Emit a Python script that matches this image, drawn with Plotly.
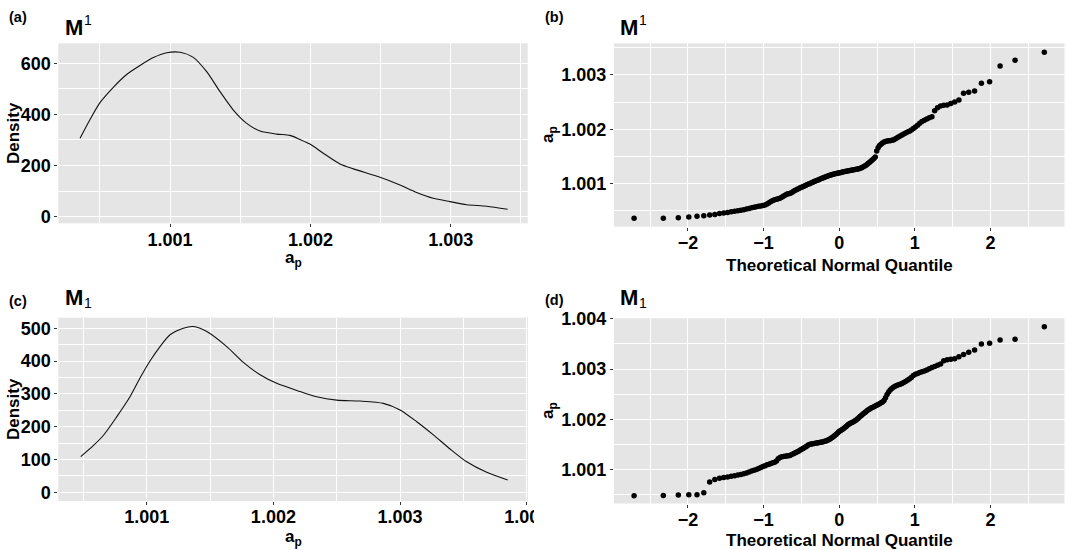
import plotly.graph_objects as go
from statistics import NormalDist

# ---------------- data ----------------
# (a) density of a_p, model M^1
dens_a_x = [1.000359, 1.000430, 1.000501, 1.000596, 1.000691, 1.000786, 1.000881, 1.000976,
            1.001071, 1.001166, 1.001261, 1.001356, 1.001451, 1.001546, 1.001641, 1.001760,
            1.001855, 1.001926, 1.001997, 1.002092, 1.002211, 1.002306, 1.002496, 1.002638,
            1.002757, 1.002876, 1.002994, 1.003113, 1.003256, 1.003405]
dens_a_y = [306.6, 380, 446, 506, 556, 591, 622, 641, 643, 623, 567, 489, 417, 365, 335, 323,
            318, 302, 284, 248, 206, 187, 154, 124, 95, 72, 59, 47, 41, 29]

# (c) density of a_p, model M_1
dens_c_x = [1.000479, 1.000578, 1.000657, 1.000763, 1.000868, 1.000947, 1.001026, 1.001105,
            1.001184, 1.001289, 1.001368, 1.001474, 1.001632, 1.001763, 1.001895, 1.002026,
            1.002211, 1.002342, 1.002500, 1.002684, 1.002868, 1.003000, 1.003132, 1.003263,
            1.003395, 1.003526, 1.003684, 1.003850]
dens_c_y = [108.5, 142, 173, 230, 291, 348, 400, 444, 480, 500, 505, 490, 444, 396, 358, 332,
            307, 291, 281, 278, 271, 251, 215, 175, 132, 93, 61, 37.5]

# (b) sorted sample a_p values, model M^1 (n = 150)
sample_b = [
    1.000358, 1.000360, 1.000370, 1.000382, 1.000398, 1.000407, 1.000418, 1.000430, 1.000446, 1.000458,
    1.000468, 1.000478, 1.000488, 1.000497, 1.000505, 1.000515, 1.000528, 1.000540, 1.000552, 1.000563,
    1.000572, 1.000580, 1.000587, 1.000594, 1.000605, 1.000622, 1.000645, 1.000668, 1.000688, 1.000702,
    1.000711, 1.000718, 1.000728, 1.000745, 1.000765, 1.000785, 1.000800, 1.000810, 1.000818, 1.000830,
    1.000848, 1.000865, 1.000882, 1.000896, 1.000908, 1.000920, 1.000932, 1.000944, 1.000956, 1.000968,
    1.000980, 1.000991, 1.001002, 1.001013, 1.001024, 1.001035, 1.001046, 1.001056, 1.001066, 1.001076,
    1.001086, 1.001096, 1.001106, 1.001115, 1.001124, 1.001133, 1.001142, 1.001150, 1.001158, 1.001165,
    1.001172, 1.001178, 1.001184, 1.001190, 1.001195, 1.001200, 1.001205, 1.001210, 1.001215, 1.001220,
    1.001225, 1.001230, 1.001235, 1.001240, 1.001245, 1.001250, 1.001254, 1.001258, 1.001262, 1.001266,
    1.001270, 1.001282, 1.001292, 1.001304, 1.001318, 1.001334, 1.001352, 1.001372, 1.001393, 1.001415,
    1.001438, 1.001462, 1.001488, 1.001598, 1.001660, 1.001700, 1.001725, 1.001748, 1.001765, 1.001776,
    1.001782, 1.001786, 1.001790, 1.001795, 1.001803, 1.001818, 1.001838, 1.001858, 1.001877, 1.001896,
    1.001914, 1.001930, 1.001947, 1.001965, 1.001985, 1.002013, 1.002043, 1.002075, 1.002110, 1.002143,
    1.002168, 1.002188, 1.002210, 1.002230, 1.002342, 1.002397, 1.002428, 1.002440, 1.002448, 1.002476,
    1.002502, 1.002539, 1.002662, 1.002681, 1.002705, 1.002847, 1.002877, 1.003166, 1.003271, 1.003418]

# (d) sorted sample a_p values, model M_1 (n = 150)
sample_d = [
    1.000479, 1.000480, 1.000494, 1.000496, 1.000498, 1.000535, 1.000750, 1.000803, 1.000825, 1.000840,
    1.000852, 1.000864, 1.000876, 1.000888, 1.000900, 1.000915, 1.000932, 1.000950, 1.000968, 1.000985,
    1.001002, 1.001020, 1.001038, 1.001058, 1.001076, 1.001092, 1.001106, 1.001120, 1.001133, 1.001146,
    1.001170, 1.001215, 1.001240, 1.001252, 1.001258, 1.001262, 1.001266, 1.001271, 1.001278, 1.001292,
    1.001308, 1.001325, 1.001340, 1.001354, 1.001370, 1.001388, 1.001404, 1.001420, 1.001436, 1.001452,
    1.001472, 1.001492, 1.001502, 1.001508, 1.001512, 1.001516, 1.001520, 1.001525, 1.001530, 1.001535,
    1.001540, 1.001546, 1.001553, 1.001560, 1.001568, 1.001578, 1.001590, 1.001604, 1.001620, 1.001637,
    1.001655, 1.001675, 1.001698, 1.001722, 1.001745, 1.001765, 1.001782, 1.001798, 1.001815, 1.001835,
    1.001858, 1.001880, 1.001900, 1.001915, 1.001928, 1.001940, 1.001955, 1.001972, 1.001992, 1.002012,
    1.002035, 1.002058, 1.002080, 1.002102, 1.002124, 1.002146, 1.002168, 1.002188, 1.002206, 1.002222,
    1.002236, 1.002250, 1.002264, 1.002280, 1.002295, 1.002310, 1.002326, 1.002345, 1.002372, 1.002430,
    1.002490, 1.002540, 1.002580, 1.002612, 1.002638, 1.002658, 1.002674, 1.002686, 1.002698, 1.002712,
    1.002730, 1.002752, 1.002776, 1.002800, 1.002830, 1.002870, 1.002895, 1.002912, 1.002930, 1.002946,
    1.002962, 1.002982, 1.003005, 1.003030, 1.003052, 1.003074, 1.003098, 1.003165, 1.003182, 1.003192,
    1.003205, 1.003245, 1.003290, 1.003332, 1.003378, 1.003497, 1.003511, 1.003577, 1.003591, 1.003842]

ap_ticks_ab = [1.001, 1.002, 1.003]
ap_ticks_cd = [1.001, 1.002, 1.003, 1.004]
ap_minor = [1.0005, 1.0015, 1.0025, 1.0035]
dens_ticks_a = [0, 200, 400, 600]
dens_minor_a = [100, 300, 500]
dens_ticks_c = [0, 100, 200, 300, 400, 500]
dens_minor_c = [50, 150, 250, 350, 450]
q_ticks = [-2, -1, 0, 1, 2]
q_minor = [-2.5, -1.5, -0.5, 0.5, 1.5, 2.5]


def theoretical_quantiles(n):
    # stat_qq: normal quantiles at ppoints(n)
    nd = NormalDist()
    return [nd.inv_cdf((i - 0.5) / n) for i in range(1, n + 1)]


# ---------------- figure ----------------
W, H = 1066, 550
FONT = "Liberation Sans"
BG = "#E5E5E5"


def px_x(p):
    return p / W


def px_y(p):
    return 1 - p / H


fig = go.Figure()

fig.add_trace(go.Scatter(x=dens_a_x, y=dens_a_y, mode="lines",
                         line=dict(color="#111111", width=1.1, shape="spline", smoothing=0.7),
                         xaxis="x", yaxis="y", showlegend=False, hoverinfo="skip"))
fig.add_trace(go.Scatter(x=theoretical_quantiles(len(sample_b)), y=sample_b, mode="markers",
                         marker=dict(color="black", size=5.5),
                         xaxis="x2", yaxis="y2", showlegend=False, hoverinfo="skip"))
fig.add_trace(go.Scatter(x=dens_c_x, y=dens_c_y, mode="lines",
                         line=dict(color="#111111", width=1.1, shape="spline", smoothing=0.7),
                         xaxis="x3", yaxis="y3", showlegend=False, hoverinfo="skip"))
fig.add_trace(go.Scatter(x=theoretical_quantiles(len(sample_d)), y=sample_d, mode="markers",
                         marker=dict(color="black", size=5.5),
                         xaxis="x4", yaxis="y4", showlegend=False, hoverinfo="skip"))


def axis(domain, rng, tickvals, minor_vals, fmt=None, anchor=None, standoff=0):
    d = dict(domain=domain, range=rng, tickmode="array", tickvals=tickvals,
             showgrid=True, gridcolor="white", gridwidth=1.2,
             zeroline=False, showline=False,
             ticks="outside", ticklen=3, tickwidth=1, tickcolor="#333333",
             tickfont=dict(family=FONT, size=18, color="black", weight="bold"),
             ticklabelstandoff=standoff,
             minor=dict(tickmode="array", tickvals=minor_vals, showgrid=True,
                        gridcolor="white", gridwidth=0.6, ticks=""),
             fixedrange=True, anchor=anchor, automargin=False)
    if fmt:
        d["tickformat"] = fmt
    return d


xa_l = [px_x(58.3), px_x(527.7)]
xc_l = [px_x(58.3), px_x(528.0)]
x_r = [px_x(613.9), px_x(1064.5)]

fig.update_layout(
    width=W, height=H, autosize=False,
    margin=dict(l=0, r=0, t=0, b=0, pad=0),
    paper_bgcolor="white", plot_bgcolor=BG,
    showlegend=False,
    xaxis=axis(xa_l, [1.000204, 1.003548], ap_ticks_ab, ap_minor, ".3f", "y", -3),
    yaxis=axis([px_y(223.3), px_y(43.3)], [-25.8, 678], dens_ticks_a, dens_minor_a, None, "x"),
    xaxis2=axis(x_r, [-2.98, 2.98], q_ticks, q_minor, None, "y2", -3),
    yaxis2=axis([px_y(226.7), px_y(43.3)], [1.000204, 1.003584], ap_ticks_ab, ap_minor, ".3f", "x2"),
    xaxis3=axis(xc_l, [1.000302, 1.004010], ap_ticks_cd, ap_minor, ".3f", "y3", -4),
    yaxis3=axis([px_y(501.0), px_y(317.7)], [-26.5, 532], dens_ticks_c, dens_minor_c, None, "x3"),
    xaxis4=axis(x_r, [-2.98, 2.98], q_ticks, q_minor, None, "y4", -3),
    yaxis4=axis([px_y(503.5), px_y(318.3)], [1.000323, 1.004009], ap_ticks_cd, ap_minor, ".3f", "x4"),
)

# clip the "1.004" tick label of panel (c) the way the reference does
fig.add_shape(type="rect", xref="paper", yref="paper",
              x0=px_x(534), x1=px_x(560), y0=px_y(530), y1=px_y(503),
              fillcolor="white", line=dict(width=0), layer="above")

annotations = []


def ann(text, x, y, size, xanchor="left", yanchor="middle", bold=True, angle=0):
    annotations.append(dict(
        text=text, x=px_x(x), y=px_y(y), xref="paper", yref="paper",
        xanchor=xanchor, yanchor=yanchor, showarrow=False, textangle=angle,
        font=dict(family=FONT, size=size, color="black", weight="bold" if bold else "normal")))


# panel tags
ann("(a)", 7, 17, 14.5)
ann("(b)", 543, 17, 14.5)
ann("(c)", 7, 301, 14.5)
ann("(d)", 543, 300, 14.5)

# panel titles M^1 / M_1
ann("M", 63, 27.5, 22)
ann("1", 82, 20, 14, bold=False)
ann("M", 618, 27.5, 22)
ann("1", 637, 20, 14, bold=False)
ann("M", 63, 297, 22)
ann("1", 82, 303, 14, bold=False)
ann("M", 618, 297, 22)
ann("1", 637, 303, 14, bold=False)

# axis titles
ann("a<sub>p</sub>", 293, 259, 17, xanchor="center")
ann("Theoretical Normal Quantile", 839, 265, 17, xanchor="center")
ann("a<sub>p</sub>", 293, 538, 17, xanchor="center")
ann("Theoretical Normal Quantile", 839, 540, 17, xanchor="center")
ann("Density", 13, 133, 17, xanchor="center", angle=-90)
ann("Density", 13, 409, 17, xanchor="center", angle=-90)
ann("a<sub>p</sub>", 549, 135, 17, xanchor="center", angle=-90)
ann("a<sub>p</sub>", 549, 411, 17, xanchor="center", angle=-90)

fig.update_layout(annotations=annotations)

fig.write_html(
    "out.html",
    config={"displayModeBar": False},
    post_script="document.body.style.margin='0';"
                "document.body.style.overflow='hidden';"
                "document.documentElement.style.overflow='hidden';",
)
